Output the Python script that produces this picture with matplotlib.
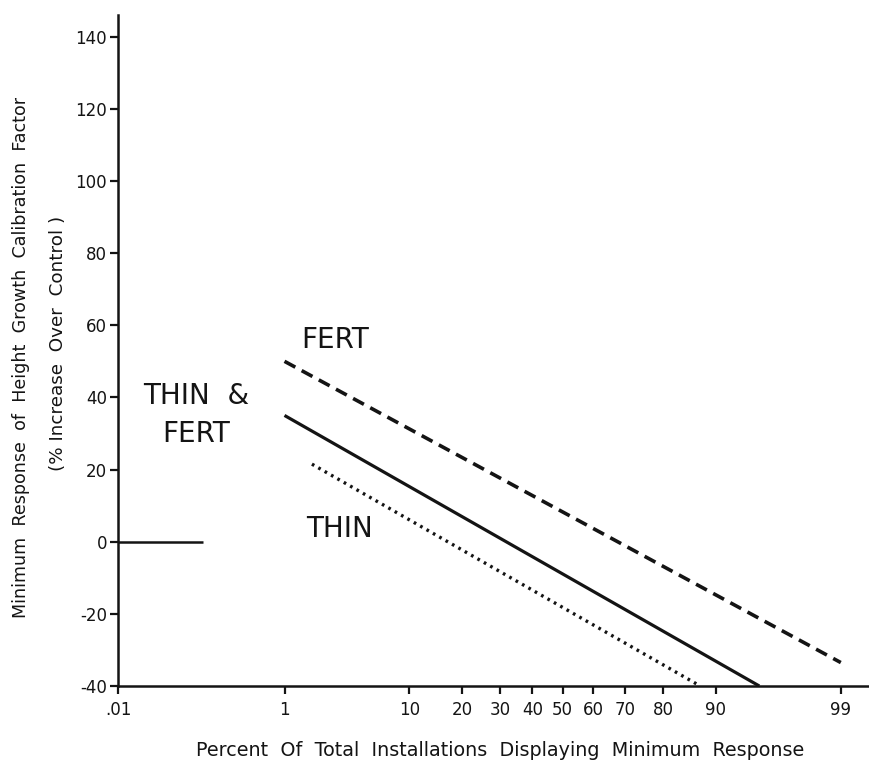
import numpy as np
import matplotlib
matplotlib.use("Agg")
import matplotlib.pyplot as plt
from statistics import NormalDist

# ---- data ----
x_ticks = [0.01, 1, 10, 20, 30, 40, 50, 60, 70, 80, 90, 99]
x_ticklabels = [".01", "1", "10", "20", "30", "40", "50", "60", "70", "80", "90", "99"]
y_ticks = [-40, -20, 0, 20, 40, 60, 80, 100, 120, 140]

fert_x = [1, 99]
fert_y = [50, -33.5]
thinfert_x = [1, 95]
thinfert_y = [35, -40]
thin_x = [1.8, 87.5]
thin_y = [21.5, -40]
base_x = [0.01, 0.13]
base_y = [0, 0]

plt.rcParams['font.family'] = ['DejaVu Sans']
INK = "#141414"

_nd = NormalDist()
_ppf = np.vectorize(_nd.inv_cdf, otypes=[float])
_cdf = np.vectorize(_nd.cdf, otypes=[float])

def fwd(p):
    p = np.clip(np.asarray(p, dtype=float) / 100.0, 1e-9, 1 - 1e-9)
    return _ppf(p)

def inv(z):
    return _cdf(np.asarray(z, dtype=float)) * 100.0

fig = plt.figure(figsize=(8.69, 7.69), dpi=100)
ax = fig.add_axes([118 / 869, 83 / 769, 1 - 118 / 869, 671 / 769])
ax.set_xscale('function', functions=(fwd, inv))
ax.set_xlim(0.01, 99.48)
ax.set_ylim(-40, 146)

ax.plot(fert_x, fert_y, color=INK, lw=2.6, dashes=(3.4, 2.0))
ax.plot(thinfert_x, thinfert_y, color=INK, lw=2.3, solid_capstyle='butt')
ax.plot(thin_x, thin_y, color=INK, lw=2.4, dashes=(0.8, 1.4))
ax.plot(base_x, base_y, color=INK, lw=1.8, solid_capstyle='butt')

ax.set_xticks(x_ticks)
ax.set_xticklabels(x_ticklabels)
ax.xaxis.set_minor_locator(matplotlib.ticker.NullLocator())
ax.set_yticks(y_ticks)
ax.set_yticklabels([str(v) for v in y_ticks])

for s in ['top', 'right']:
    ax.spines[s].set_visible(False)
for s in ['left', 'bottom']:
    ax.spines[s].set_linewidth(1.8)
    ax.spines[s].set_color(INK)
ax.tick_params(axis='both', colors=INK, width=1.6, length=6, labelsize=12)
ax.tick_params(axis='x', pad=5)
ax.tick_params(axis='y', pad=2)

ax.text(1.45, 56, "FERT", fontsize=20, color=INK, ha='left', va='center')
ax.text(1.6, 3.6, "THIN", fontsize=20, color=INK, ha='left', va='center')
ax.text(0.11, 35, "THIN  &\nFERT", fontsize=20, color=INK, ha='center',
        va='center', linespacing=1.45)

fig.text(500 / 869, 1 - 750 / 769,
         "Percent  Of  Total  Installations  Displaying  Minimum  Response",
         ha='center', va='center', fontsize=13.8, color=INK)
fig.text(21 / 869, 1 - 357 / 769,
         "Minimum  Response  of  Height  Growth  Calibration  Factor",
         rotation=90, ha='center', va='center', fontsize=12.6, color=INK)
fig.text(58 / 869, 1 - 343 / 769, "(% Increase  Over  Control )",
         rotation=90, ha='center', va='center', fontsize=13.2, color=INK)

fig.savefig("out.png", dpi=100, facecolor='white')
